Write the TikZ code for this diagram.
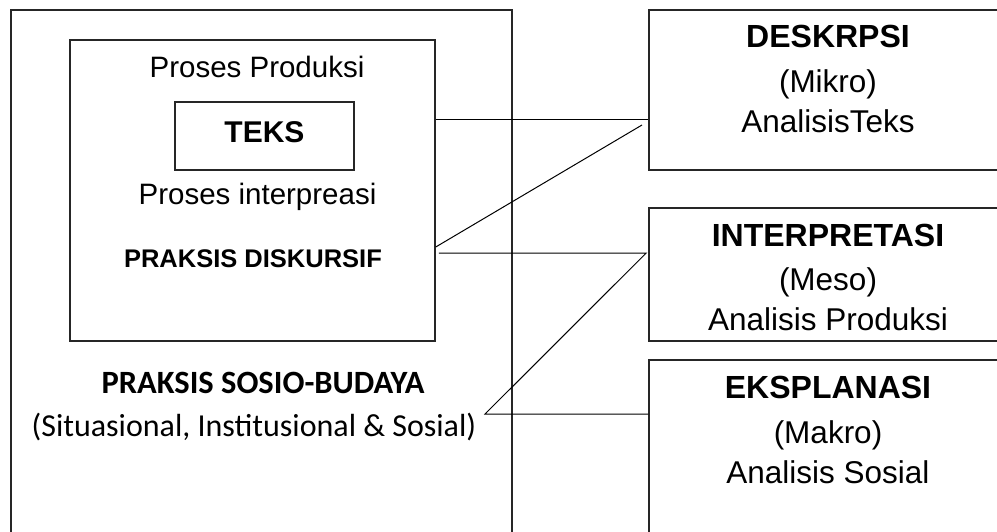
\documentclass[tikz,border=0pt]{standalone}
\usepackage{fontspec}
\setmainfont{Liberation Sans}
\newfontfamily\calibri{Carlito}
\usetikzlibrary{positioning}
\tikzset{
    % connector lines
    link/.style={
           draw=black,
           line width=1pt,},
    % box frames
    frame/.style={
           rectangle,
           draw=black!85,
           line width=1.5pt,
           inner sep=0pt,},
}

\begin{document}
\begin{tikzpicture}[x=1pt, y=-1pt,
txt/.style={anchor=base, font=\fontsize{29.5}{34}\selectfont},
rtxt/.style={anchor=base, font=\fontsize{31.5}{36}\selectfont},
head/.style={anchor=base, font=\fontsize{32}{36}\selectfont\bfseries},
]
\useasboundingbox (0,0) rectangle (997,532);

%Frames
\node[frame, minimum width=501pt, minimum height=600pt](outer) at (261.5,310){};
\node[frame, minimum width=365pt, minimum height=301pt](inner) at (252.5,190.5){};
\node[frame, minimum width=179pt, minimum height=68pt](teksbox) at (264.5,136){};

\node[frame, minimum width=358pt, minimum height=160pt](desk) at (828,90){};
\node[frame, minimum width=358pt, minimum height=133pt](interp) at (828,274.5){};
\node[frame, minimum width=358pt, minimum height=340pt](ekspl) at (828,530){};

%Texts left
\node[txt](prod) at (257,78){Proses Produksi};
\node[head, font=\fontsize{30}{35}\selectfont\bfseries](teks) at (264.5,143){TEKS};
\node[txt](intpr) at (257.5,205){Proses interpreasi};
\node[head, font=\fontsize{25.5}{30}\selectfont\bfseries](diskursif) at (253,268){PRAKSIS DISKURSIF};
\node[anchor=base, font=\fontsize{32.5}{37}\calibri\bfseries](sosbud) at (263,393){PRAKSIS SOSIO-BUDAYA};
\node[anchor=base, font=\fontsize{32}{37}\calibri](sitsos) at (254,436){(Situasional, Institusional \& Sosial)};

%Texts right
\node[head](deskt) at (828,48){DESKRPSI};
\node[rtxt](mikro) at (828,93){(Mikro)};
\node[rtxt](antks) at (828,133){AnalisisTeks};

\node[head](interpt) at (828,247){INTERPRETASI};
\node[rtxt](meso) at (828,290){(Meso)};
\node[rtxt](anprod) at (828,330){Analisis Produksi};

\node[head](eksplt) at (828,398){EKSPLANASI};
\node[rtxt](makro) at (828,443){(Makro)};
\node[rtxt](ansos) at (828,483){Analisis Sosial};

%Connectors
\coordinate (d1) at (642,125);
\coordinate (b3) at (485,414);
\draw[link] (inner.east |- 0,120) -- (desk.west |- 0,120);
\draw[link] (inner.east |- 0,247) -- (d1);
\draw[link] ([xshift=3pt]inner.east |- 0,253) -- ([xshift=-2pt]interp.west |- 0,253) -- (b3) -- (ekspl.west |- b3);

\end{tikzpicture}
\end{document}
